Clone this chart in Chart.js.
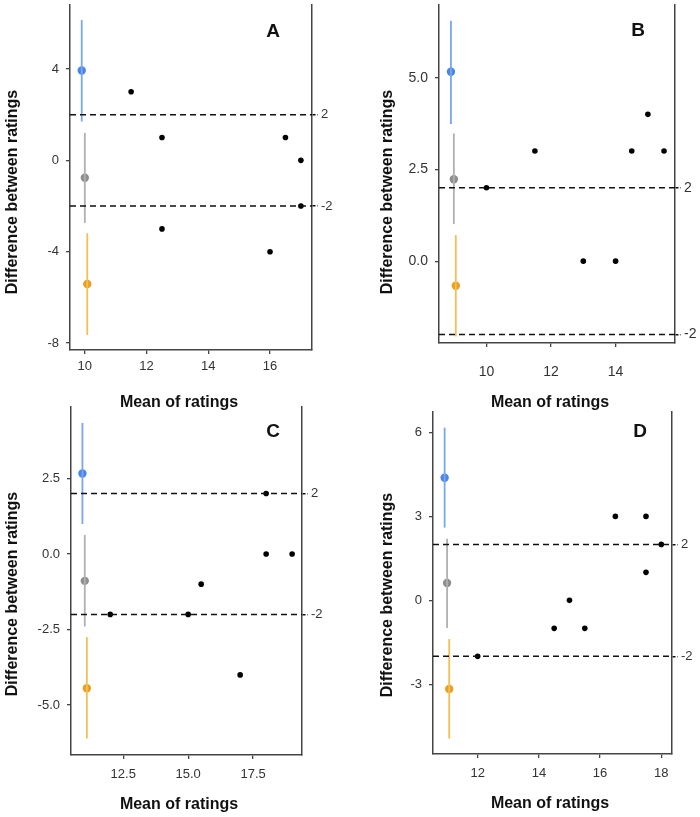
<!DOCTYPE html>
<html>
<head>
<meta charset="utf-8">
<script src="https://cdn.jsdelivr.net/npm/chart.js@4.4.1/dist/chart.umd.min.js"></script>
<style>
  body { margin: 0; background: #fff; }
  #wrap { position: relative; width: 700px; height: 817px; overflow: hidden; }
  .panel { position: absolute; }
  .panel canvas { display: block; }
</style>
</head>
<body>
<div id="wrap">
  <div class="panel" style="left:0;top:0;width:350px;height:412px"><canvas id="chartA"></canvas></div>
  <div class="panel" style="left:350px;top:0;width:350px;height:412px"><canvas id="chartB"></canvas></div>
  <div class="panel" style="left:0;top:400px;width:350px;height:417px"><canvas id="chartC"></canvas></div>
  <div class="panel" style="left:350px;top:400px;width:350px;height:417px"><canvas id="chartD"></canvas></div>
</div>
<script>
// limites de concordância (linhas tracejadas)
const limits = [2, -2];

// Painel A
const meanA = [11.5, 12.5, 12.5, 16, 16.5, 17, 17];
const diffA = [3, 1, -3, -4, 1, 0, -2];
const ciXA = [9.9, 10.0, 10.08];
const ciMidA = [3.93, -0.76, -5.41];
const ciLoA = [1.7, -2.74, -7.64];
const ciHiA = [6.14, 1.2, -3.19];
const xTicksA = [10, 12, 14, 16];
const yTicksA = [-8, -4, 0, 4];

// Painel B
const meanB = [10, 11.5, 13, 14, 14.5, 15, 15.5];
const diffB = [2, 3, 0, 0, 3, 4, 3];
const ciXB = [8.9, 8.99, 9.05];
const ciMidB = [5.16, 2.23, -0.67];
const ciLoB = [3.74, 1.01, -2.05];
const ciHiB = [6.55, 3.48, 0.71];
const xTicksB = [10, 12, 14];
const yTicksB = [0, 2.5, 5];

// Painel C
const meanC = [12, 15, 15.5, 17, 18, 18, 19];
const diffC = [-2, -2, -1, -4, 2, 0, 0];
const ciXC = [10.93, 11.02, 11.1];
const ciMidC = [2.66, -0.89, -4.44];
const ciLoC = [0.99, -2.4, -6.1];
const ciHiC = [4.33, 0.63, -2.75];
const xTicksC = [12.5, 15, 17.5];
const yTicksC = [-5, -2.5, 0, 2.5];

// Painel D
const meanD = [12, 14.5, 15, 15.5, 16.5, 17.5, 17.5, 18];
const diffD = [-2, -1, 0, -1, 3, 3, 1, 2];
const ciXD = [10.92, 11.0, 11.07];
const ciMidD = [4.38, 0.62, -3.17];
const ciLoD = [2.6, -0.99, -4.94];
const ciHiD = [6.17, 2.2, -1.38];
const xTicksD = [12, 14, 16, 18];
const yTicksD = [-3, 0, 3, 6];

const ciDotColors = ['#4a86e8', '#8e8e8e', '#e9a020'];
const ciLineColors = ['#7aa6ee', '#b0b0b0', '#f0c050'];
const axisColor = '#444';
const tickColor = '#333';

// plugin para letra do painel e títulos dos eixos
const panelText = {
  id: 'panelText',
  afterDraw(chart, args, opts) {
    const ctx = chart.ctx;
    ctx.save();
    ctx.fillStyle = '#111';
    ctx.textAlign = 'center';
    ctx.textBaseline = 'middle';
    ctx.font = 'bold 19px "Liberation Sans", Arial, sans-serif';
    ctx.fillText(opts.letter, opts.letterPos[0], opts.letterPos[1]);
    ctx.font = 'bold 16px "Liberation Sans", Arial, sans-serif';
    ctx.fillText('Mean of ratings', opts.xTitlePos[0], opts.xTitlePos[1]);
    ctx.translate(opts.yTitlePos[0], opts.yTitlePos[1]);
    ctx.rotate(-Math.PI / 2);
    ctx.fillText('Difference between ratings', 0, 0);
    ctx.restore();
  }
};

// tamanho fixo da escala, sem o preenchimento automático dos rótulos
function fixSize(prop, size) {
  return s => {
    s[prop] = size;
    s.paddingTop = 0;
    s.paddingBottom = 0;
    s.paddingLeft = 0;
    s.paddingRight = 0;
  };
}

function buildPanel(id, p) {
  const datasets = [];
  // linhas tracejadas dos limites
  limits.forEach(v => {
    datasets.push({
      type: 'line',
      data: [{ x: p.xMin, y: v }, { x: p.xMax, y: v }],
      borderColor: '#111',
      borderWidth: 1.5,
      borderDash: [6, 4],
      pointRadius: 0
    });
  });
  // intervalos de confiança
  p.ciX.forEach((x, i) => {
    datasets.push({
      type: 'line',
      data: [{ x: x, y: p.ciLo[i] }, { x: x, y: p.ciHi[i] }],
      borderColor: ciLineColors[i],
      borderWidth: 1.8,
      pointRadius: 0
    });
  });
  datasets.push({
    type: 'scatter',
    data: p.ciX.map((x, i) => ({ x: x, y: p.ciMid[i] })),
    backgroundColor: ciDotColors,
    borderWidth: 0,
    pointRadius: 4.2
  });
  // pontos observados
  datasets.push({
    type: 'scatter',
    data: p.mean.map((x, i) => ({ x: x, y: p.diff[i] })),
    backgroundColor: '#000',
    borderWidth: 0,
    pointRadius: 2.8
  });

  const tickFont = { family: '"Liberation Sans", Arial, sans-serif', size: p.fontSize };

  new Chart(document.getElementById(id), {
    type: 'scatter',
    data: { datasets },
    options: {
      responsive: true,
      maintainAspectRatio: false,
      animation: false,
      events: [],
      layout: { padding: { top: p.top, left: 0, right: 0, bottom: 0 } },
      plugins: {
        legend: { display: false },
        tooltip: { enabled: false },
        panelText: { letter: p.letter, letterPos: p.letterPos, xTitlePos: p.xTitlePos, yTitlePos: p.yTitlePos }
      },
      scales: {
        x: {
          type: 'linear',
          min: p.xMin,
          max: p.xMax,
          afterBuildTicks: s => { s.ticks = p.xTicks.map(v => ({ value: v })); },
          afterFit: fixSize('height', p.xHeight),
          ticks: { color: tickColor, font: tickFont, padding: p.xPad, maxRotation: 0, callback: v => p.xFmt(v) },
          grid: { drawOnChartArea: false, drawTicks: true, tickLength: 4, color: axisColor, lineWidth: 1.3 },
          border: { display: true, color: axisColor, width: 1.5 }
        },
        y: {
          type: 'linear',
          position: 'left',
          min: p.yMin,
          max: p.yMax,
          afterBuildTicks: s => { s.ticks = p.yTicks.map(v => ({ value: v })); },
          afterFit: fixSize('width', p.yWidth),
          ticks: { color: tickColor, font: tickFont, padding: 7, callback: v => p.yFmt(v) },
          grid: { drawOnChartArea: false, drawTicks: true, tickLength: 4, color: axisColor, lineWidth: 1.3 },
          border: { display: true, color: axisColor, width: 1.5 }
        },
        y2: {
          type: 'linear',
          position: 'right',
          min: p.yMin,
          max: p.yMax,
          afterBuildTicks: s => { s.ticks = limits.map(v => ({ value: v })); },
          afterFit: fixSize('width', p.y2Width),
          ticks: { color: tickColor, font: tickFont, padding: 3 },
          grid: { drawOnChartArea: false, drawTicks: true, tickLength: 6, color: '#111', lineWidth: 1.5, tickBorderDash: [3, 2] },
          border: { display: true, color: axisColor, width: 1.5 }
        }
      }
    },
    plugins: [panelText]
  });
}

const intFmt = v => String(v);
const oneDec = v => v.toFixed(1);

buildPanel('chartA', {
  mean: meanA, diff: diffA, ciX: ciXA, ciMid: ciMidA, ciLo: ciLoA, ciHi: ciHiA,
  xTicks: xTicksA, yTicks: yTicksA, xFmt: intFmt, yFmt: intFmt,
  xMin: 9.52, xMax: 17.36, yMin: -8.3, yMax: 6.8,
  top: 5, yWidth: 70, y2Width: 38, xHeight: 62, xPad: 5, fontSize: 13,
  letter: 'A', letterPos: [273, 32], xTitlePos: [179, 403], yTitlePos: [13, 192]
});

buildPanel('chartB', {
  mean: meanB, diff: diffB, ciX: ciXB, ciMid: ciMidB, ciLo: ciLoB, ciHi: ciHiB,
  xTicks: xTicksB, yTicks: yTicksB, xFmt: intFmt, yFmt: oneDec,
  xMin: 8.53, xMax: 15.84, yMin: -2.23, yMax: 6.98,
  top: 5, yWidth: 89, y2Width: 25, xHeight: 69, xPad: 17, fontSize: 14,
  letter: 'B', letterPos: [288, 31], xTitlePos: [200, 403], yTitlePos: [38, 192]
});

buildPanel('chartC', {
  mean: meanC, diff: diffC, ciX: ciXC, ciMid: ciMidC, ciLo: ciLoC, ciHi: ciHiC,
  xTicks: xTicksC, yTicks: yTicksC, xFmt: oneDec, yFmt: oneDec,
  xMin: 10.49, xMax: 19.38, yMin: -6.65, yMax: 4.86,
  top: 7, yWidth: 71, y2Width: 48, xHeight: 62, xPad: 8, fontSize: 13,
  letter: 'C', letterPos: [273, 32], xTitlePos: [179, 405], yTitlePos: [13, 194]
});

buildPanel('chartD', {
  mean: meanD, diff: diffD, ciX: ciXD, ciMid: ciMidD, ciLo: ciLoD, ciHi: ciHiD,
  xTicks: xTicksD, yTicks: yTicksD, xFmt: intFmt, yFmt: intFmt,
  xMin: 10.54, xMax: 18.35, yMin: -5.49, yMax: 6.73,
  top: 12, yWidth: 83, y2Width: 28, xHeight: 63, xPad: 8, fontSize: 13,
  letter: 'D', letterPos: [290, 32], xTitlePos: [200, 404], yTitlePos: [38, 195]
});
</script>
</body>
</html>
